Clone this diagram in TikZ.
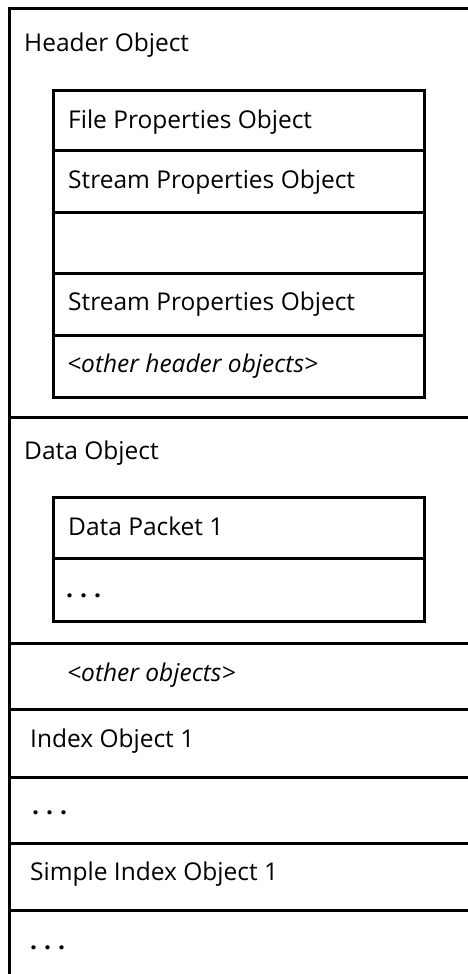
\documentclass[tikz,border=0pt]{standalone}
\usepackage{fontspec}
\setmainfont{Open Sans}
\newcommand{\dotsrow}{\textbf{.\hspace{7pt}.\hspace{7pt}.}}
\begin{document}
\begin{tikzpicture}[x=1pt,y=-1pt,
  rule/.style={line width=3pt,line cap=rect},
  lbl/.style={anchor=base west,inner sep=0pt,font=\fontsize{24.5}{29}\selectfont},
  ilbl/.style={lbl,font=\fontsize{24.5}{29}\selectfont\itshape}]
\useasboundingbox (0,0) rectangle (467,974);
% outer frame
\draw[rule] (467,9) -- (9,9) -- (9,980);
\foreach \y in {417,643,709,777,843,910} \draw[rule] (9,\y) -- (470,\y);
% inner header box
\draw[rule] (53,90) rectangle (424,397);
\foreach \y in {150,212,273,335} \draw[rule] (53,\y) -- (424,\y);
% inner data box
\draw[rule] (53,497) rectangle (424,621);
\draw[rule] (53,558) -- (424,558);
% labels
\node[lbl] (hdr) at (24,52) {Header Object};
\node[lbl] (fpo) at (68,128) {File Properties Object};
\node[lbl] (spo1) at (68,188) {Stream Properties Object};
\node[lbl] (spo2) at (68,310) {Stream Properties Object};
\node[ilbl] (oho) at (67,372) {<other header objects>};
\node[lbl] (dat) at (24,459) {Data Object};
\node[lbl] (dp1) at (68,535) {Data Packet 1};
\node[lbl] (dpx) at (66,597) {\dotsrow};
\node[ilbl] (oo) at (67,681) {<other objects>};
\node[lbl] (io1) at (30,747) {Index Object 1};
\node[lbl] (iox) at (32,814) {\dotsrow};
\node[lbl] (sio) at (30,880) {Simple Index Object 1};
\node[lbl] (siox) at (30,949) {\dotsrow};
\end{tikzpicture}
\end{document}
